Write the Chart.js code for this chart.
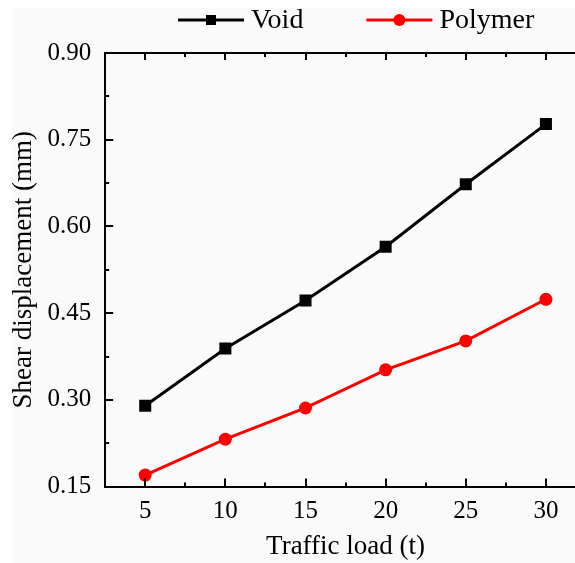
<!DOCTYPE html>
<html>
<head>
<meta charset="utf-8">
<script src="https://cdn.jsdelivr.net/npm/chart.js@4/dist/chart.umd.min.js"></script>
<style>
  html, body { margin: 0; padding: 0; background: #ffffff; overflow: hidden; }
  #wrap { position: absolute; left: 0; top: 0; width: 586px; height: 563px; }
</style>
</head>
<body>
<div id="wrap"><canvas id="c" width="586" height="563"></canvas></div>
<script>
// ---- data ----
const categories = [5, 10, 15, 20, 25, 30];
const voidValues = [0.290, 0.389, 0.472, 0.565, 0.673, 0.777];
const polymerValues = [0.170, 0.232, 0.286, 0.352, 0.402, 0.474];
const xTickValues = [5, 10, 15, 20, 25, 30];
const xMinorValues = [7.5, 12.5, 17.5, 22.5, 27.5];
const yTickValues = [0.15, 0.30, 0.45, 0.60, 0.75, 0.90];
const yMinorValues = [0.225, 0.375, 0.525, 0.675, 0.825];
const seriesNames = ['Void', 'Polymer'];

const FONT = '"Liberation Serif", "Times New Roman", serif';

const bgPlugin = {
  id: 'bgPlugin',
  beforeDraw(chart) {
    const ctx = chart.ctx;
    ctx.save();
    ctx.fillStyle = '#fafafa';
    ctx.fillRect(12, 8, chart.width, chart.height);
    ctx.restore();
  }
};

const inwardTicks = {
  id: 'inwardTicks',
  afterDraw(chart) {
    const {ctx, chartArea: a, scales} = chart;
    const x = scales.x, y = scales.y;
    ctx.save();
    ctx.strokeStyle = '#000';
    ctx.lineWidth = 2;
    ctx.beginPath();
    ctx.moveTo(a.left - 1, a.top);
    ctx.lineTo(a.right, a.top);
    ctx.stroke();
    ctx.beginPath();
    xTickValues.forEach(v => {
      const px = Math.round(x.getPixelForValue(v));
      ctx.moveTo(px, a.bottom); ctx.lineTo(px, a.bottom - 8);
      ctx.moveTo(px, a.top); ctx.lineTo(px, a.top + 7);
    });
    xMinorValues.forEach(v => {
      const px = Math.round(x.getPixelForValue(v));
      ctx.moveTo(px, a.bottom); ctx.lineTo(px, a.bottom - 4);
      ctx.moveTo(px, a.top); ctx.lineTo(px, a.top + 4);
    });
    yTickValues.forEach(v => {
      const py = Math.round(y.getPixelForValue(v));
      ctx.moveTo(a.left, py); ctx.lineTo(a.left + 8, py);
    });
    yMinorValues.forEach(v => {
      const py = Math.round(y.getPixelForValue(v));
      ctx.moveTo(a.left, py); ctx.lineTo(a.left + 4, py);
    });
    ctx.stroke();
    ctx.restore();
  }
};

const lineLegend = {
  id: 'lineLegend',
  afterDraw(chart) {
    const ctx = chart.ctx;
    ctx.save();
    ctx.font = '28px ' + FONT;
    ctx.textBaseline = 'middle';
    ctx.textAlign = 'left';
    let xPos = 178;
    const yPos = 20;
    chart.data.datasets.forEach(ds => {
      ctx.strokeStyle = ds.borderColor;
      ctx.lineWidth = 3;
      ctx.beginPath();
      ctx.moveTo(xPos, yPos);
      ctx.lineTo(xPos + 66, yPos);
      ctx.stroke();
      ctx.fillStyle = ds.borderColor;
      const cx = xPos + 33;
      if (ds.pointStyle === 'rect') {
        ctx.fillRect(cx - 5, yPos - 5, 10, 10);
      } else {
        ctx.beginPath();
        ctx.arc(cx, yPos, 6, 0, Math.PI * 2);
        ctx.fill();
      }
      ctx.fillStyle = '#000';
      const tx = xPos + 66 + 7;
      ctx.fillText(ds.label, tx, yPos + 1);
      xPos = tx + ctx.measureText(ds.label).width + 63;
    });
    ctx.restore();
  }
};

new Chart(document.getElementById('c'), {
  type: 'line',
  data: {
    datasets: [
      {
        label: seriesNames[0],
        data: categories.map((c, i) => ({x: c, y: voidValues[i]})),
        borderColor: '#000000',
        backgroundColor: '#000000',
        borderWidth: 3,
        pointStyle: 'rect',
        pointRadius: 8.5,
        pointHoverRadius: 8.5,
        pointBorderWidth: 0,
        tension: 0
      },
      {
        label: seriesNames[1],
        data: categories.map((c, i) => ({x: c, y: polymerValues[i]})),
        borderColor: '#ff0000',
        backgroundColor: '#ff0000',
        borderWidth: 3,
        pointStyle: 'circle',
        pointRadius: 6.5,
        pointHoverRadius: 6.5,
        pointBorderWidth: 0,
        tension: 0
      }
    ]
  },
  options: {
    responsive: false,
    animation: false,
    events: [],
    layout: { autoPadding: false, padding: { top: 53, left: 0, right: 0, bottom: 0 } },
    plugins: { legend: { display: false }, tooltip: { enabled: false } },
    scales: {
      x: {
        type: 'linear',
        min: 2.5,
        max: 32.5,
        afterBuildTicks: s => { s.ticks = xTickValues.map(v => ({value: v})); },
        afterFit: s => { s.height -= s.options.ticks.padding; },
        grid: { display: false, drawTicks: false },
        border: { display: true, color: '#000', width: 2 },
        ticks: {
          color: '#000',
          padding: 10,
          font: { family: FONT, size: 25 },
          callback: v => String(v),
          maxRotation: 0
        },
        title: {
          display: true,
          text: 'Traffic load (t)',
          color: '#000',
          font: { family: FONT, size: 27 },
          padding: { top: 4, bottom: 0 }
        }
      },
      y: {
        type: 'linear',
        min: 0.15,
        max: 0.90,
        afterBuildTicks: s => { s.ticks = yTickValues.map(v => ({value: v})); },
        afterFit: s => { s.width -= s.options.ticks.padding; },
        grid: { display: false, drawTicks: false },
        border: { display: true, color: '#000', width: 2 },
        ticks: {
          color: '#000',
          padding: 14,
          font: { family: FONT, size: 25 },
          callback: v => Number(v).toFixed(2)
        },
        title: {
          display: true,
          text: 'Shear displacement (mm)',
          color: '#000',
          font: { family: FONT, size: 27 },
          padding: { top: 8, bottom: 7 }
        }
      }
    }
  },
  plugins: [bgPlugin, inwardTicks, lineLegend]
});
</script>
</body>
</html>
